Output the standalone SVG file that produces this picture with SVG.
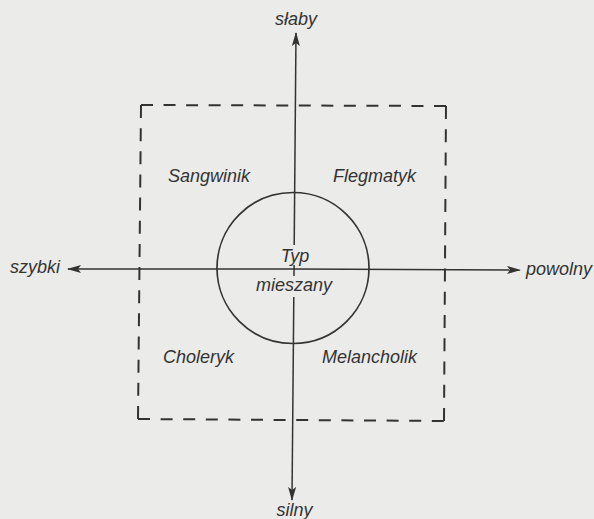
<svg xmlns="http://www.w3.org/2000/svg" width="594" height="519" viewBox="0 0 594 519">
  <defs>
    <style>
      .lbl { font-family: "Liberation Sans", Arial, sans-serif; font-style: italic; font-size: 18px; fill: #333; }
      .axis { stroke: #333; stroke-width: 1.5; fill: none; }
      .dash { stroke: #333; stroke-width: 2; fill: none; }
      .ring { stroke: #333; stroke-width: 1.7; fill: none; }
    </style>
    <marker id="ah" viewBox="0 0 14 8" refX="13" refY="4" markerWidth="14" markerHeight="8" orient="auto" markerUnits="userSpaceOnUse">
      <path d="M0,0 L14,4 L0,8 L3,4 z" fill="#333"/>
    </marker>
  </defs>
  <rect x="0" y="0" width="594" height="519" fill="#ebebe9"/>

  <g id="frame">
    <line class="dash" x1="141" y1="105" x2="446" y2="106" stroke-dasharray="12 10.54"/>
    <line class="dash" x1="446" y1="106" x2="444" y2="421" stroke-dasharray="13 10.23"/>
    <line class="dash" x1="138" y1="419" x2="444" y2="421" stroke-dasharray="12 10.6"/>
    <line class="dash" x1="141" y1="105" x2="138" y2="419" stroke-dasharray="13 10.15"/>
  </g>

  <g id="connectors">
    <line class="axis" x1="294.2" y1="245" x2="296" y2="33" marker-end="url(#ah)"/>
    <line class="axis" x1="294.1" y1="265" x2="294" y2="276"/>
    <line class="axis" x1="293.8" y1="297" x2="292" y2="500" marker-end="url(#ah)"/>
    <line class="axis" x1="294" y1="269" x2="68" y2="269" marker-end="url(#ah)"/>
    <line class="axis" x1="294" y1="269" x2="520" y2="270" marker-end="url(#ah)"/>
  </g>

  <g id="node-center">
    <ellipse class="ring" cx="293" cy="268" rx="76" ry="75.5"/>
    <text class="lbl" x="295" y="262" text-anchor="middle">Typ</text>
    <text class="lbl" x="294" y="291" text-anchor="middle">mieszany</text>
  </g>
  <g id="node-sangwinik"><text class="lbl" x="168" y="182">Sangwinik</text></g>
  <g id="node-flegmatyk"><text class="lbl" x="333" y="182">Flegmatyk</text></g>
  <g id="node-choleryk"><text class="lbl" x="163" y="363">Choleryk</text></g>
  <g id="node-melancholik"><text class="lbl" x="322" y="363">Melancholik</text></g>
  <g id="node-slaby"><text class="lbl" x="296" y="25" text-anchor="middle">słaby</text></g>
  <g id="node-silny"><text class="lbl" x="294.5" y="516" text-anchor="middle">silny</text></g>
  <g id="node-szybki"><text class="lbl" x="10" y="273">szybki</text></g>
  <g id="node-powolny"><text class="lbl" x="526" y="275">powolny</text></g>
</svg>
